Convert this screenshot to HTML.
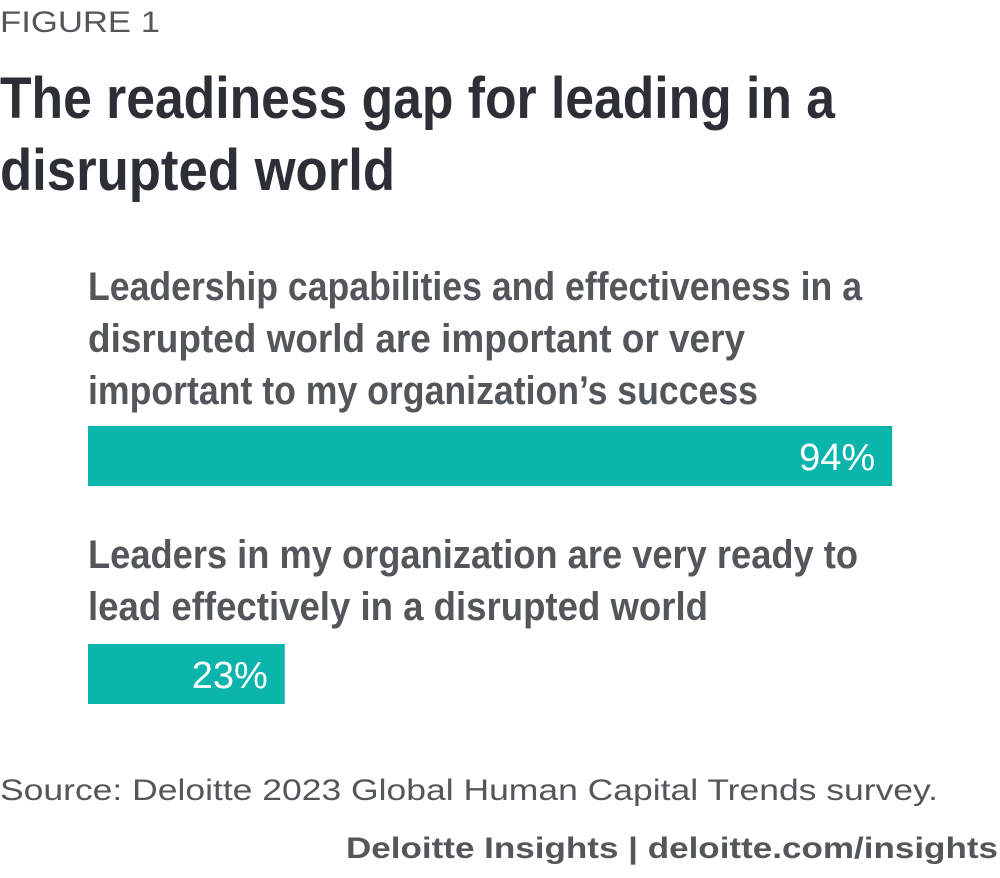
<!DOCTYPE html>
<html>
<head>
<meta charset="utf-8">
<style>
  html, body { margin: 0; padding: 0; background: #ffffff; }
  svg { display: block; }
  text { font-family: "Liberation Sans Narrow", "Liberation Sans", sans-serif; }
</style>
</head>
<body>
<svg id="chart" width="1000" height="878" viewBox="0 0 1000 878" xmlns="http://www.w3.org/2000/svg">
  <text x="0" y="32" font-family="Liberation Sans, sans-serif" font-size="30" fill="#53565a" textLength="160" lengthAdjust="spacingAndGlyphs">FIGURE 1</text>
  <text x="0" y="118" font-size="58" font-weight="bold" fill="#2d2f36" textLength="835" lengthAdjust="spacingAndGlyphs">The readiness gap for leading in a</text>
  <text x="0" y="190" font-size="58" font-weight="bold" fill="#2d2f36" textLength="395" lengthAdjust="spacingAndGlyphs">disrupted world</text>

  <text x="88" y="300" font-size="40" font-weight="bold" fill="#53565a" textLength="774" lengthAdjust="spacingAndGlyphs">Leadership capabilities and effectiveness in a</text>
  <text x="88" y="352" font-size="40" font-weight="bold" fill="#53565a" textLength="657" lengthAdjust="spacingAndGlyphs">disrupted world are important or very</text>
  <text x="88" y="404" font-size="40" font-weight="bold" fill="#53565a" textLength="670" lengthAdjust="spacingAndGlyphs">important to my organization’s success</text>

  <text x="88" y="568" font-size="40" font-weight="bold" fill="#53565a" textLength="770" lengthAdjust="spacingAndGlyphs">Leaders in my organization are very ready to</text>
  <text x="88" y="620" font-size="40" font-weight="bold" fill="#53565a" textLength="620" lengthAdjust="spacingAndGlyphs">lead effectively in a disrupted world</text>

  <g id="bars"></g>

  <text x="0" y="800" font-family="Liberation Sans, sans-serif" font-size="30" fill="#53565a" textLength="938" lengthAdjust="spacingAndGlyphs">Source: Deloitte 2023 Global Human Capital Trends survey.</text>
  <text x="346" y="858" font-family="Liberation Sans, sans-serif" font-size="30" font-weight="bold" fill="#53565a" textLength="652" lengthAdjust="spacingAndGlyphs">Deloitte Insights | deloitte.com/insights</text>
</svg>
<script>
const categories = ["Leadership important", "Leaders very ready"];
const values = [94, 23];
const valueLabels = ["94%", "23%"];

const x0 = 88, pxPerPct = 8.555;
const barTops = [426, 644];
const barH = 60;
function xScale(v) { return x0 + v * pxPerPct; }

const NS = "http://www.w3.org/2000/svg";
const g = document.getElementById("bars");
values.forEach((v, i) => {
  const r = document.createElementNS(NS, "rect");
  r.setAttribute("x", x0);
  r.setAttribute("y", barTops[i]);
  r.setAttribute("width", xScale(v) - x0);
  r.setAttribute("height", barH);
  r.setAttribute("fill", "#0bb5ac");
  
  
  g.appendChild(r);
  const t = document.createElementNS(NS, "text");
  t.setAttribute("x", xScale(v) - 17);
  t.setAttribute("y", barTops[i] + 44);
  t.setAttribute("text-anchor", "end");
  t.setAttribute("font-family", "Liberation Sans, sans-serif");
  t.setAttribute("font-size", "38");
  t.setAttribute("fill", "#ffffff");
  t.textContent = valueLabels[i];
  
  
  g.appendChild(t);
});
</script>
</body>
</html>
